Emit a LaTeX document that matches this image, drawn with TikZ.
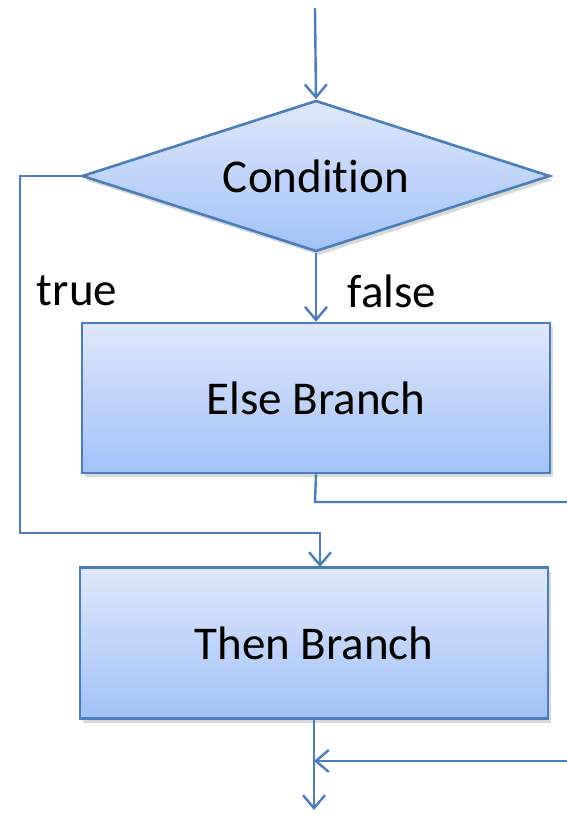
\documentclass[tikz,border=0pt]{standalone}
\usepackage{fontspec}
\setmainfont[RawFeature={-liga}]{Carlito}
\usetikzlibrary{shapes.geometric,arrows.meta,shadows}
\definecolor{lineblue}{HTML}{4A7EBB}
\definecolor{topblue}{HTML}{DEE8FC}
\definecolor{botblue}{HTML}{A3C1F7}
\begin{document}
\begin{tikzpicture}[x=1pt,y=-1pt,
  conn/.style={draw=lineblue,line width=2.4pt},
  arr/.style={conn,-{Straight Barb[length=13pt,width=22pt]}},
  boxstyle/.style={draw=lineblue,line width=2.6pt,top color=topblue,bottom color=botblue,
    drop shadow={shadow xshift=3pt,shadow yshift=-4pt,opacity=0.25,fill=black!60},
    font=\fontsize{47}{56}\selectfont,inner sep=0pt},
  lbl/.style={font=\fontsize{47}{56}\selectfont,inner sep=0pt}]
\useasboundingbox (0,0) rectangle (567,814);
\node[boxstyle,shape=diamond,shape aspect=3.1,minimum width=468pt,minimum height=151pt] (cond) at (316,176) {Condition};
\node[boxstyle,rectangle,minimum width=468pt,minimum height=150pt] (else) at (316,398) {Else Branch};
\node[boxstyle,rectangle,minimum width=468pt,minimum height=151pt] (then) at (314,643) {Then Branch};
\coordinate (start) at (315,8);
\coordinate (tl) at (20,176);
\coordinate (bl) at (20,533);
\coordinate (tin) at (320,533);
\coordinate (tn) at (320,567);
\coordinate (eb) at (315,502);
\coordinate (eout) at (567,502);
\coordinate (rin) at (567,761);
\coordinate (jn) at (314,761);
\coordinate (fin) at (314,810);
\draw[arr] (start) -- (cond.north);
\draw[arr] (cond.south) -- (else.north);
\draw[arr] (cond.west) -- (tl) -- (bl) -- (tin) -- (tn);
\draw[conn] (else.south) -- (eb) -- (eout);
\draw[arr] (then.south) -- (fin);
\draw[arr] (rin) -- (jn);
\node[lbl] (ltrue) at (77,291) {true};
\node[lbl] (lfalse) at (392,291) {false};
\end{tikzpicture}
\end{document}
